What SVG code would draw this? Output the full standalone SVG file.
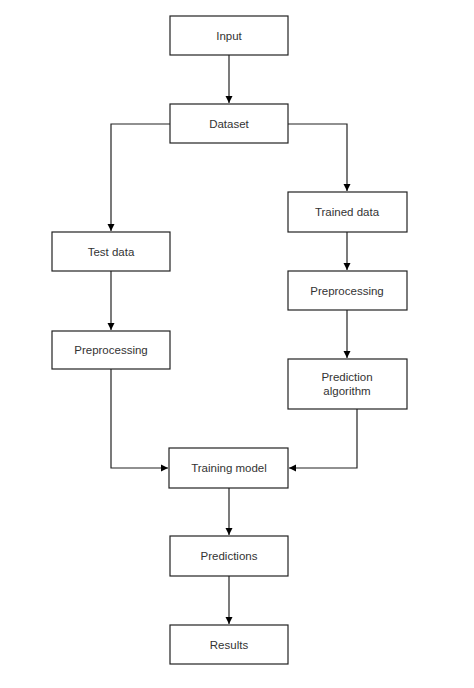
<svg xmlns="http://www.w3.org/2000/svg" width="474" height="688" viewBox="0 0 474 688">
<defs>
<marker id="ah" markerWidth="8" markerHeight="8" refX="7" refY="4" orient="auto" markerUnits="userSpaceOnUse">
<path d="M0,0.5 L7,4 L0,7.5 Z" fill="#000"/>
</marker>
<style>
.n rect{fill:#fff;stroke:#222;stroke-width:1.2}
.n text{font-family:"Liberation Sans",Arial,sans-serif;font-size:11.5px;fill:#333;text-anchor:middle}
.c path{fill:none;stroke:#222;stroke-width:1.2;marker-end:url(#ah)}
</style>
</defs>
<rect width="474" height="688" fill="#fff"/>
<g class="c">
<path d="M229,55 V103"/>
<path d="M170,124 H111 V231"/>
<path d="M288,124 H347 V191"/>
<path d="M111,271 V330"/>
<path d="M347,232 V270"/>
<path d="M347,310 V358"/>
<path d="M111,369 V468 H168"/>
<path d="M357,409 V468 H289"/>
<path d="M229,488 V535"/>
<path d="M229,576 V624"/>
</g>
<g id="input" class="n"><rect x="170" y="16" width="118" height="39"/><text x="229" y="40">Input</text></g>
<g id="dataset" class="n"><rect x="170" y="104" width="118" height="39"/><text x="229" y="128">Dataset</text></g>
<g id="testdata" class="n"><rect x="52" y="232" width="118" height="39"/><text x="111" y="256">Test data</text></g>
<g id="prep-left" class="n"><rect x="52" y="331" width="118" height="38"/><text x="111" y="354">Preprocessing</text></g>
<g id="traineddata" class="n"><rect x="288" y="192" width="119" height="40"/><text x="347" y="216">Trained data</text></g>
<g id="prep-right" class="n"><rect x="288" y="271" width="119" height="39"/><text x="347" y="295">Preprocessing</text></g>
<g id="predalg" class="n"><rect x="288" y="359" width="119" height="50"/><text x="347" y="381">Prediction</text><text x="347" y="395">algorithm</text></g>
<g id="training" class="n"><rect x="169" y="448" width="119" height="40"/><text x="229" y="472">Training model</text></g>
<g id="predictions" class="n"><rect x="170" y="536" width="118" height="40"/><text x="229" y="560">Predictions</text></g>
<g id="results" class="n"><rect x="170" y="625" width="118" height="39"/><text x="229" y="649">Results</text></g>
</svg>
